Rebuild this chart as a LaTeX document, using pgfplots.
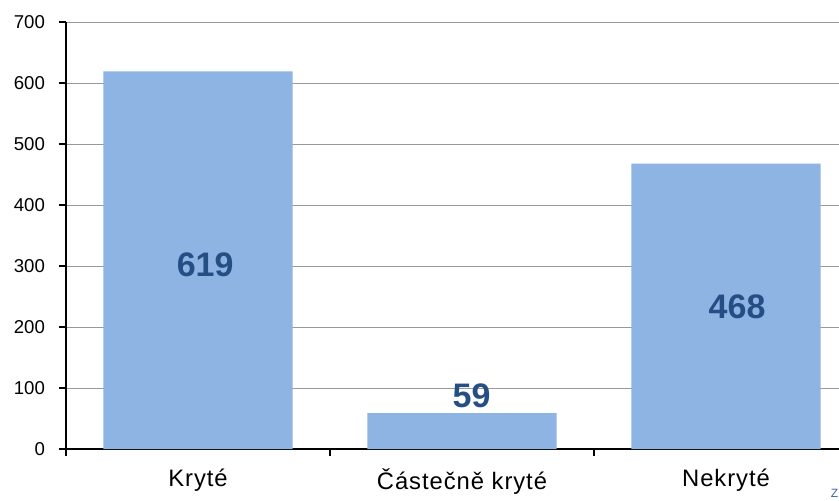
\documentclass[border=0pt]{standalone}
\usepackage{pgfplots}
\pgfplotsset{compat=1.18}
\usepackage{fontspec}
\setmainfont{Liberation Sans}
\newfontfamily\catfont[LetterSpace=4]{Liberation Sans}
\definecolor{barc}{HTML}{8EB4E3}
\definecolor{labc}{HTML}{254E85}
\definecolor{srcc}{HTML}{3A64B0}
\begin{document}
\begin{tikzpicture}[x=0.5pt,y=0.5pt]
\clip (0,0) rectangle (839,500);
\fill[white] (0,0) rectangle (839,500);
\begin{axis}[
  at={(33pt,25.5pt)}, anchor=south west,
  scale only axis, width=396pt, height=213.5pt,
  xmin=-0.5, xmax=2.5, ymin=0, ymax=700,
  axis x line*=bottom, axis y line*=left,
  axis line style={black, line width=0.8pt},
  xtick={0,1,2},
  xticklabels={Kryté, Částečně kryté, Nekryté},
  minor xtick={-0.5,0.5,1.5,2.5},
  major x tick style={draw=none},
  minor x tick style={black, line width=0.6pt},
  minor tick length=3.5pt,
  ytick={0,100,...,700},
  major y tick style={black, line width=0.6pt},
  major tick length=3.5pt,
  tick align=outside,
  ymajorgrids,
  grid style={gray!80, line width=0.5pt},
  /pgf/number format/assume math mode=true,
  yticklabel style={font=\fontsize{9.3}{10}\selectfont, xshift=-3.5pt},
  xticklabel style={font=\catfont\fontsize{11.9}{13}\selectfont, yshift=-3pt},
  clip=false,
]
\addplot[ybar, bar width=0.716, fill=barc, draw=none, bar shift=0pt]
  coordinates {(0,619) (1,59) (2,468)};
\addplot[only marks, mark=none, nodes near coords, point meta=explicit symbolic,
  every node near coord/.style={anchor=center, font=\fontsize{17}{19}\selectfont\bfseries, text=labc}]
  table[meta=label] {
x y label
0.027 301.6 619
1.036 86.9 59
2.042 232.8 468
};
\end{axis}
\node[anchor=south east, inner sep=0pt, text=srcc, font=\fontsize{6}{7}\selectfont] at (838.5,2) {Z};
\end{tikzpicture}
\end{document}
